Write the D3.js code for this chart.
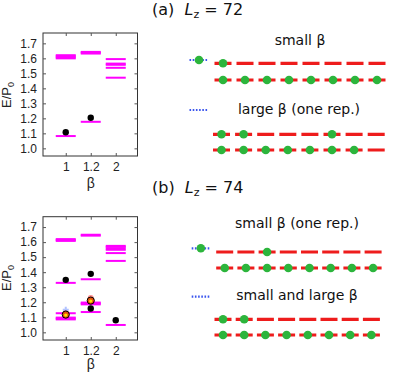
<!DOCTYPE html>
<html><head><meta charset="utf-8">
<script src="https://cdn.jsdelivr.net/npm/d3@7/dist/d3.min.js"></script>
<style>body{margin:0;background:#fff}</style></head>
<body><script>
// ---------- data ----------
const betas = ["1", "1.2", "2"];
const yTicks = [1.0, 1.1, 1.2, 1.3, 1.4, 1.5, 1.6, 1.7];
// magenta energy levels, per beta
const levelsA = [
  [1.600, 1.607, 1.614, 1.621, 1.082],
  [1.632, 1.638, 1.643, 1.177],
  [1.595, 1.565, 1.557, 1.537, 1.471]
];
const levelsB = [
  [1.608, 1.614, 1.620, 1.329, 1.127, 1.098, 1.092, 1.086],
  [1.643, 1.649, 1.353, 1.186, 1.192, 1.198, 1.135],
  [1.575, 1.568, 1.558, 1.549, 1.527, 1.475, 1.049]
];
// black dots [betaIndex, E]
const dotsA = [[0, 1.107], [1, 1.204]];
const dotsB = [[0, 1.349], [1, 1.389], [1, 1.158], [2, 1.080]];
// coloured (orange/yellow) dots
const colDotsB = [[0, 1.118], [1, 1.211]];
// faint markers
const faintBlueB = [[0, 1.151]];
const faintRedB = [[1, 1.229], [0, 1.128]];

// schematic: occupied sites on each dashed row
const sitesA1 = [0];
const sitesA2 = [0, 1, 2, 3, 4, 5, 6, 7];
const sitesA3 = [0, 1, 5];
const sitesA4 = [0, 1, 2, 3, 4, 5, 6];
const sitesB1 = [2];
const sitesB2 = [0, 1, 2, 3, 4, 5, 6, 7];
const sitesB3 = [0, 1];
const sitesB4 = [0, 1, 2, 3, 4, 5, 6, 7];

// ---------- drawing ----------
const W = 399, H = 375;
const svg = d3.select("body").append("svg").attr("width", W).attr("height", H)
  .style("font-family", "'Liberation Sans', Arial, sans-serif");

const MAG = "#ff00ff", RED = "#ee1c1c", GREEN = "#2cb53c", BLUE = "#3a55ee";

function panel(top, bottom, levels, dots, yLabelY, betaY) {
  const x = d3.scaleLinear().domain([0.09, 3.87]).range([43, 137.5]);
  const y = d3.scaleLinear().domain([0.949, 1.769]).range([bottom, top]);
  const g = svg.append("g");
  // frame
  g.append("rect").attr("x", 43).attr("y", top).attr("width", 94.5).attr("height", bottom - top)
    .attr("fill", "none").attr("stroke", "#333").attr("stroke-width", 1);
  // y ticks inside left & right
  const yAx = d3.axisLeft(y).tickValues(yTicks).tickFormat(d3.format(".1f")).tickSizeInner(-3).tickSizeOuter(0).tickPadding(6);
  const ya = g.append("g").attr("transform", "translate(43,0)").call(yAx);
  ya.select(".domain").remove();
  ya.selectAll("line").attr("stroke", "#555");
  ya.selectAll("text").attr("font-size", 12).attr("fill", "#222");
  const yR = g.append("g").attr("transform", "translate(137.5,0)").call(d3.axisRight(y).tickValues(yTicks).tickSizeInner(-3).tickSizeOuter(0).tickFormat(""));
  yR.select(".domain").remove(); yR.selectAll("line").attr("stroke", "#555");
  // x ticks
  const xAx = d3.axisBottom(x).tickValues([1, 2, 3]).tickFormat((d, i) => betas[i]).tickSizeInner(-3).tickSizeOuter(0).tickPadding(6);
  const xa = g.append("g").attr("transform", `translate(0,${bottom})`).call(xAx);
  xa.select(".domain").remove();
  xa.selectAll("line").attr("stroke", "#555");
  xa.selectAll("text").attr("font-size", 12).attr("fill", "#222");
  const xT = g.append("g").attr("transform", `translate(0,${top})`).call(d3.axisTop(x).tickValues([1, 2, 3]).tickSizeInner(-3).tickSizeOuter(0).tickFormat(""));
  xT.select(".domain").remove(); xT.selectAll("line").attr("stroke", "#555");
  // labels
  const yl = g.append("text").attr("transform", `translate(11,${yLabelY}) rotate(-90)`)
    .attr("text-anchor", "middle").attr("font-size", 13).attr("fill", "#222");
  yl.append("tspan").text("E/P");
  yl.append("tspan").attr("font-size", 9).attr("dy", 3).text("0");
  g.append("text").attr("x", x(2)).attr("y", betaY).attr("text-anchor", "middle")
    .attr("font-size", 14).attr("fill", "#222").text("β");
  // levels
  levels.forEach((arr, i) => {
    g.selectAll(null).data(arr).enter().append("line")
      .attr("x1", x(i + 1) - 10).attr("x2", x(i + 1) + 10)
      .attr("y1", d => y(d)).attr("y2", d => y(d))
      .attr("stroke", MAG).attr("stroke-width", 2);
  });
  g.selectAll(null).data(dots).enter().append("circle")
    .attr("cx", d => x(d[0] + 1)).attr("cy", d => y(d[1])).attr("r", 3.2).attr("fill", "#000");
  return { g, x, y };
}

const pA = panel(33, 156, levelsA, dotsA, 95, 188);
const pB = panel(216.7, 340, levelsB, dotsB, 278, 369);

// extra markers in panel b
pB.g.selectAll(null).data(faintRedB).enter().append("circle")
  .attr("cx", d => pB.x(d[0] + 1)).attr("cy", d => pB.y(d[1])).attr("r", 3)
  .attr("fill", "#ff3030").attr("opacity", 0.55);
faintBlueB.forEach(d => {
  const cx = pB.x(d[0] + 1), cy = pB.y(d[1]);
  pB.g.append("path").attr("d", `M${cx - 3},${cy}H${cx + 3}M${cx},${cy - 3}V${cy + 3}`)
    .attr("stroke", "#7f9cff").attr("stroke-width", 2).attr("opacity", 0.6);
});
pB.g.selectAll(null).data(colDotsB).enter().append("circle")
  .attr("cx", d => pB.x(d[0] + 1)).attr("cy", d => pB.y(d[1])).attr("r", 3.6)
  .attr("fill", "#e8500a").attr("stroke", "#000").attr("stroke-width", 1);
pB.g.selectAll(null).data(colDotsB).enter().append("circle")
  .attr("cx", d => pB.x(d[0] + 1)).attr("cy", d => pB.y(d[1]) + 0.5).attr("r", 1.7)
  .attr("fill", "#ffe000");

// ---------- schematics ----------
const sfont = "'DejaVu Sans', Verdana, sans-serif";
function title(yb, letter, num) {
  const t = svg.append("text").attr("x", 152).attr("y", yb).attr("font-size", 16)
    .attr("font-family", sfont).attr("fill", "#111").attr("xml:space", "preserve");
  t.append("tspan").text(`(${letter})  `);
  t.append("tspan").attr("font-style", "italic").text("L");
  t.append("tspan").attr("font-size", 11).attr("dy", 3).text("z");
  t.append("tspan").attr("dy", -3).text(` = ${num}`);
}
title(14.5, "a", "72");
title(193, "b", "74");

function label(cx, yb, txt) {
  svg.append("text").attr("x", cx).attr("y", yb).attr("text-anchor", "middle")
    .attr("font-size", 14).attr("font-family", sfont).attr("fill", "#111").text(txt);
}
label(300, 44.5, "small β");
label(299, 114, "large β (one rep.)");
label(297, 227.5, "small β (one rep.)");
label(297, 300, "small and large β");

function blueLeg(x1, x2, yy, withDot) {
  svg.append("line").attr("x1", x1).attr("x2", x2).attr("y1", yy).attr("y2", yy)
    .attr("stroke", BLUE).attr("stroke-width", 2.2).attr("stroke-dasharray", "1.6,1.6");
  if (withDot) svg.append("circle").attr("cx", (x1 + x2) / 2).attr("cy", yy).attr("r", 4.3).attr("fill", GREEN);
}
blueLeg(189.5, 208.5, 60, true);
blueLeg(189.5, 208, 110, false);
blueLeg(191.7, 210, 248.3, true);
blueLeg(191.7, 209.5, 296.7, false);

function chain(start, period, yy, sites) {
  const dash = 17, gap = period - dash;
  const s = d3.scaleLinear().domain([0, 8]).range([start, start + 8 * period]);
  svg.append("line").attr("x1", s(0)).attr("x2", s(8) - gap).attr("y1", yy).attr("y2", yy)
    .attr("stroke", RED).attr("stroke-width", 3.2).attr("stroke-dasharray", `${dash},${gap}`);
  svg.selectAll(null).data(sites).enter().append("circle")
    .attr("cx", d => s(d) + dash / 2).attr("cy", yy).attr("r", 4.3).attr("fill", GREEN);
}
chain(214.5, 22, 63.3, sitesA1);
chain(214.5, 22, 80, sitesA2);
chain(213, 22.1, 134.3, sitesA3);
chain(213, 22.1, 150, sitesA4);
chain(216.2, 21.2, 252, sitesB1);
chain(216.2, 21.2, 268, sitesB2);
chain(214.5, 21.2, 319.3, sitesB3);
chain(214.5, 21.2, 335, sitesB4);
</script></body></html>
